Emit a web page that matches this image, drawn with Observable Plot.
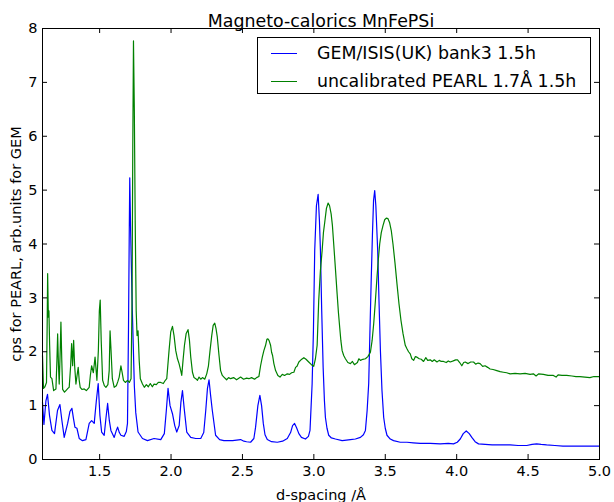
<!DOCTYPE html>
<html>
<head>
<meta charset="utf-8">
<script src="https://cdn.jsdelivr.net/npm/d3@7"></script>
<script src="https://cdn.jsdelivr.net/npm/@observablehq/plot@0.6"></script>
<style>
  html, body { margin: 0; padding: 0; background: white; }
  #wrap { position: relative; width: 614px; height: 502px; font-family: "DejaVu Sans", sans-serif; }
  #legend { position: absolute; left: 257px; top: 37px; width: 332px; height: 55px; border: 1px solid black; background: white; }
  .row { position: absolute; left: 0; height: 22px; font-size: 17.4px; line-height: 22px; white-space: nowrap; }
  .sw { position: absolute; left: 13px; top: 10.5px; width: 26px; height: 0; border-top: 1.2px solid; }
  .lab { position: absolute; left: 59px; top: 0; }
</style>
</head>
<body>
<div id="wrap">
  <div id="chart"></div>
  <div id="legend"></div>
</div>
<script>
const title = "Magneto-calorics MnFePSi";
const xLabel = "d-spacing /Å";
const yLabel = "cps for PEARL, arb.units for GEM";
const seriesNames = ["GEM/ISIS(UK) bank3 1.5h", "uncalibrated PEARL 1.7Å 1.5h"];
const seriesColors = ["#0000ff", "#008000"];
const xTicks = [1.5, 2.0, 2.5, 3.0, 3.5, 4.0, 4.5, 5.0];
const yTicks = [0, 1, 2, 3, 4, 5, 6, 7, 8];
const xDomain = [1.1, 5.0];
const yDomain = [0, 8];

// GEM (blue): [d-spacing, value]
const gemPoints = [[1.100,1.06],[1.110,0.65],[1.124,1.09],[1.135,1.21],[1.149,0.82],[1.166,0.54],[1.184,0.48],[1.205,0.91],[1.222,1.02],[1.236,0.72],[1.252,0.41],[1.276,0.67],[1.292,0.89],[1.306,0.95],[1.317,0.76],[1.327,0.60],[1.341,0.58],[1.357,0.39],[1.380,0.35],[1.404,0.37],[1.427,0.67],[1.444,0.72],[1.462,0.67],[1.477,1.09],[1.490,1.41],[1.502,0.82],[1.514,0.51],[1.532,0.45],[1.544,0.76],[1.556,1.04],[1.568,0.72],[1.579,0.54],[1.602,0.41],[1.617,0.54],[1.626,0.60],[1.638,0.50],[1.649,0.45],[1.672,0.43],[1.687,0.52],[1.695,0.67],[1.702,2.39],[1.707,4.06],[1.711,5.23],[1.717,4.25],[1.729,2.76],[1.743,1.37],[1.753,0.87],[1.769,0.51],[1.800,0.39],[1.835,0.35],[1.881,0.39],[1.928,0.37],[1.953,0.48],[1.967,0.91],[1.979,1.32],[1.993,1.00],[2.010,0.85],[2.026,0.63],[2.040,0.51],[2.057,0.63],[2.069,1.06],[2.080,1.28],[2.092,0.95],[2.110,0.51],[2.138,0.41],[2.173,0.39],[2.208,0.39],[2.229,0.50],[2.243,0.91],[2.255,1.32],[2.266,1.48],[2.277,1.19],[2.289,0.91],[2.312,0.45],[2.340,0.37],[2.370,0.35],[2.431,0.35],[2.487,0.37],[2.510,0.34],[2.529,0.33],[2.557,0.32],[2.580,0.39],[2.592,0.60],[2.608,1.00],[2.622,1.19],[2.634,1.00],[2.646,0.67],[2.658,0.46],[2.674,0.37],[2.704,0.33],[2.744,0.32],[2.781,0.34],[2.814,0.39],[2.837,0.50],[2.851,0.63],[2.865,0.67],[2.879,0.59],[2.895,0.48],[2.913,0.41],[2.941,0.38],[2.962,0.43],[2.973,0.54],[2.988,1.41],[2.997,2.39],[3.006,3.88],[3.018,4.71],[3.030,4.92],[3.039,4.43],[3.046,3.88],[3.055,2.76],[3.065,1.71],[3.074,1.09],[3.081,0.78],[3.092,0.58],[3.104,0.45],[3.123,0.40],[3.151,0.38],[3.198,0.35],[3.228,0.36],[3.256,0.37],[3.291,0.38],[3.326,0.41],[3.347,0.46],[3.361,0.54],[3.373,0.91],[3.384,1.41],[3.392,2.30],[3.401,3.27],[3.410,4.16],[3.418,4.81],[3.426,4.99],[3.434,4.71],[3.447,3.88],[3.456,2.95],[3.466,2.02],[3.477,1.28],[3.489,0.78],[3.500,0.58],[3.512,0.45],[3.535,0.38],[3.558,0.35],[3.605,0.32],[3.652,0.32],[3.696,0.31],[3.745,0.30],[3.815,0.30],[3.885,0.29],[3.941,0.30],[3.978,0.29],[4.004,0.32],[4.025,0.38],[4.046,0.48],[4.067,0.53],[4.088,0.48],[4.106,0.41],[4.129,0.33],[4.153,0.29],[4.199,0.28],[4.248,0.27],[4.304,0.27],[4.374,0.27],[4.430,0.26],[4.491,0.26],[4.528,0.28],[4.560,0.29],[4.591,0.28],[4.630,0.27],[4.688,0.26],[4.744,0.25],[4.816,0.25],[4.877,0.25],[4.933,0.25],[5.000,0.25]];

// PEARL (green): [d-spacing, value]
const pearlPoints = [[1.100,1.93],[1.107,1.32],[1.117,1.35],[1.128,1.43],[1.133,2.58],[1.136,3.45],[1.141,2.64],[1.145,2.76],[1.150,2.12],[1.156,1.53],[1.166,1.50],[1.178,1.28],[1.194,1.31],[1.201,1.84],[1.206,2.33],[1.212,1.74],[1.217,1.40],[1.224,2.02],[1.229,2.55],[1.235,1.84],[1.241,1.30],[1.254,1.25],[1.264,1.28],[1.278,1.32],[1.287,1.34],[1.297,1.74],[1.304,2.15],[1.311,1.74],[1.318,2.21],[1.325,1.74],[1.334,1.40],[1.342,1.56],[1.350,1.71],[1.357,1.47],[1.364,1.34],[1.376,1.30],[1.392,1.31],[1.407,1.28],[1.427,1.34],[1.435,1.56],[1.444,1.74],[1.456,1.61],[1.468,1.90],[1.481,1.47],[1.491,2.02],[1.498,2.76],[1.504,2.96],[1.511,2.21],[1.521,1.47],[1.533,1.37],[1.544,1.34],[1.558,1.39],[1.567,1.65],[1.573,2.39],[1.580,2.02],[1.589,1.50],[1.602,1.34],[1.617,1.37],[1.628,1.45],[1.637,1.53],[1.649,1.74],[1.658,1.61],[1.667,1.47],[1.680,1.43],[1.695,1.47],[1.708,1.43],[1.720,1.50],[1.727,2.95],[1.732,5.73],[1.737,7.77],[1.743,6.47],[1.749,4.43],[1.756,2.76],[1.762,2.30],[1.769,2.39],[1.777,1.84],[1.785,1.50],[1.800,1.40],[1.813,1.34],[1.827,1.39],[1.841,1.35],[1.855,1.41],[1.869,1.35],[1.881,1.40],[1.897,1.39],[1.911,1.43],[1.928,1.43],[1.946,1.41],[1.960,1.47],[1.970,1.50],[1.986,2.02],[1.998,2.37],[2.010,2.47],[2.021,2.30],[2.033,2.02],[2.045,1.87],[2.056,1.78],[2.068,1.65],[2.075,1.56],[2.084,1.84],[2.094,2.12],[2.106,2.34],[2.119,2.41],[2.129,2.21],[2.138,1.90],[2.150,1.62],[2.161,1.52],[2.173,1.50],[2.185,1.47],[2.196,1.53],[2.208,1.49],[2.220,1.52],[2.236,1.49],[2.250,1.59],[2.262,1.74],[2.273,2.02],[2.285,2.30],[2.295,2.49],[2.306,2.53],[2.315,2.43],[2.324,2.27],[2.336,1.93],[2.347,1.65],[2.359,1.56],[2.370,1.53],[2.389,1.48],[2.403,1.52],[2.417,1.50],[2.438,1.52],[2.459,1.48],[2.487,1.53],[2.508,1.49],[2.529,1.51],[2.545,1.50],[2.564,1.52],[2.585,1.49],[2.599,1.52],[2.615,1.54],[2.627,1.74],[2.639,1.90],[2.650,2.02],[2.662,2.12],[2.671,2.23],[2.678,2.24],[2.686,2.21],[2.697,2.12],[2.704,1.99],[2.711,1.93],[2.720,1.78],[2.732,1.65],[2.748,1.56],[2.763,1.53],[2.779,1.58],[2.795,1.56],[2.814,1.59],[2.830,1.58],[2.844,1.61],[2.860,1.62],[2.872,1.71],[2.882,1.73],[2.895,1.81],[2.910,1.85],[2.930,1.89],[2.945,1.86],[2.964,1.81],[2.983,1.76],[2.999,1.73],[3.011,1.87],[3.023,2.12],[3.034,2.95],[3.046,3.51],[3.058,3.88],[3.067,4.21],[3.076,4.40],[3.088,4.66],[3.100,4.76],[3.110,4.71],[3.121,4.56],[3.130,4.34],[3.139,4.00],[3.151,3.54],[3.163,3.07],[3.172,2.73],[3.181,2.45],[3.189,2.21],[3.198,2.02],[3.209,1.93],[3.221,1.87],[3.238,1.80],[3.256,1.78],[3.270,1.82],[3.284,1.76],[3.305,1.80],[3.315,1.87],[3.326,1.84],[3.343,1.86],[3.361,1.87],[3.378,1.91],[3.396,1.99],[3.408,2.21],[3.419,2.52],[3.431,2.95],[3.442,3.38],[3.452,3.73],[3.461,4.00],[3.472,4.21],[3.484,4.34],[3.496,4.45],[3.507,4.48],[3.519,4.47],[3.530,4.40],[3.542,4.25],[3.554,4.00],[3.568,3.65],[3.582,3.26],[3.596,2.89],[3.610,2.58],[3.624,2.34],[3.640,2.12],[3.651,2.06],[3.663,2.00],[3.675,1.96],[3.686,1.87],[3.699,1.84],[3.711,1.91],[3.722,1.90],[3.738,1.87],[3.752,1.86],[3.768,1.82],[3.784,1.89],[3.797,1.84],[3.815,1.85],[3.829,1.82],[3.843,1.85],[3.862,1.81],[3.878,1.84],[3.892,1.82],[3.908,1.82],[3.927,1.80],[3.941,1.83],[3.955,1.81],[3.976,1.83],[3.993,1.85],[4.006,1.85],[4.021,1.80],[4.036,1.74],[4.049,1.80],[4.060,1.81],[4.080,1.78],[4.098,1.81],[4.118,1.81],[4.133,1.77],[4.150,1.79],[4.164,1.78],[4.182,1.73],[4.199,1.74],[4.217,1.71],[4.234,1.68],[4.255,1.67],[4.281,1.65],[4.304,1.63],[4.327,1.62],[4.350,1.61],[4.374,1.59],[4.409,1.60],[4.444,1.59],[4.479,1.60],[4.514,1.58],[4.537,1.59],[4.556,1.55],[4.573,1.59],[4.607,1.58],[4.640,1.56],[4.677,1.56],[4.696,1.53],[4.710,1.57],[4.737,1.56],[4.770,1.56],[4.807,1.55],[4.835,1.54],[4.863,1.54],[4.898,1.53],[4.933,1.52],[4.961,1.54],[5.000,1.54]];

const W = 614, H = 502;
const mL = 42, mR = 15, mT = 28, mB = 43;
const innerW = W - mL - mR, innerH = H - mT - mB;
const tickLen = 5;
const tickFont = 14.5, titleFont = 17.4;

const gem = gemPoints.map(([d, v]) => ({d, v}));
const pearl = pearlPoints.map(([d, v]) => ({d, v}));

const chart = Plot.plot({
  width: W, height: H,
  marginLeft: mL, marginRight: mR, marginTop: mT, marginBottom: mB,
  style: {fontFamily: "DejaVu Sans, sans-serif", fontSize: tickFont + "px", background: "white", color: "black", overflow: "visible"},
  x: {domain: xDomain},
  y: {domain: yDomain},
  marks: [
    Plot.axisX({ticks: xTicks, tickSize: 0, tickPadding: 6.5, tickFormat: d3.format(".1f"), fontSize: tickFont,
      label: xLabel, labelAnchor: "center", labelArrow: "none", labelOffset: 40}),
    Plot.axisY({ticks: yTicks, tickSize: 0, tickPadding: 5, tickFormat: d3.format("d"), fontSize: tickFont,
      label: yLabel, labelAnchor: "center", labelArrow: "none", labelOffset: 32}),
    Plot.line(gem, {x: "d", y: "v", stroke: seriesColors[0], strokeWidth: 1.2}),
    Plot.line(pearl, {x: "d", y: "v", stroke: seriesColors[1], strokeWidth: 1.2}),
    Plot.tickX(xTicks, {x: d => d, insetTop: innerH - tickLen, stroke: "black"}),
    Plot.tickX(xTicks, {x: d => d, insetBottom: innerH - tickLen, stroke: "black"}),
    Plot.tickY(yTicks, {y: d => d, insetRight: innerW - tickLen, stroke: "black"}),
    Plot.tickY(yTicks, {y: d => d, insetLeft: innerW - tickLen, stroke: "black"}),
    Plot.frame({stroke: "black", strokeWidth: 1}),
    Plot.text([title], {frameAnchor: "top", dy: -14, fontSize: titleFont, fill: "black"})
  ]
});
document.getElementById("chart").appendChild(chart);

const legend = document.getElementById("legend");
seriesNames.forEach((name, i) => {
  const row = document.createElement("div");
  row.className = "row";
  row.style.top = (i === 0 ? 4 : 32) + "px";
  row.style.width = "100%";
  const sw = document.createElement("div");
  sw.className = "sw";
  sw.style.borderTopColor = seriesColors[i];
  const lab = document.createElement("div");
  lab.className = "lab";
  lab.textContent = name;
  row.appendChild(sw);
  row.appendChild(lab);
  legend.appendChild(row);
});
</script>
</body>
</html>
